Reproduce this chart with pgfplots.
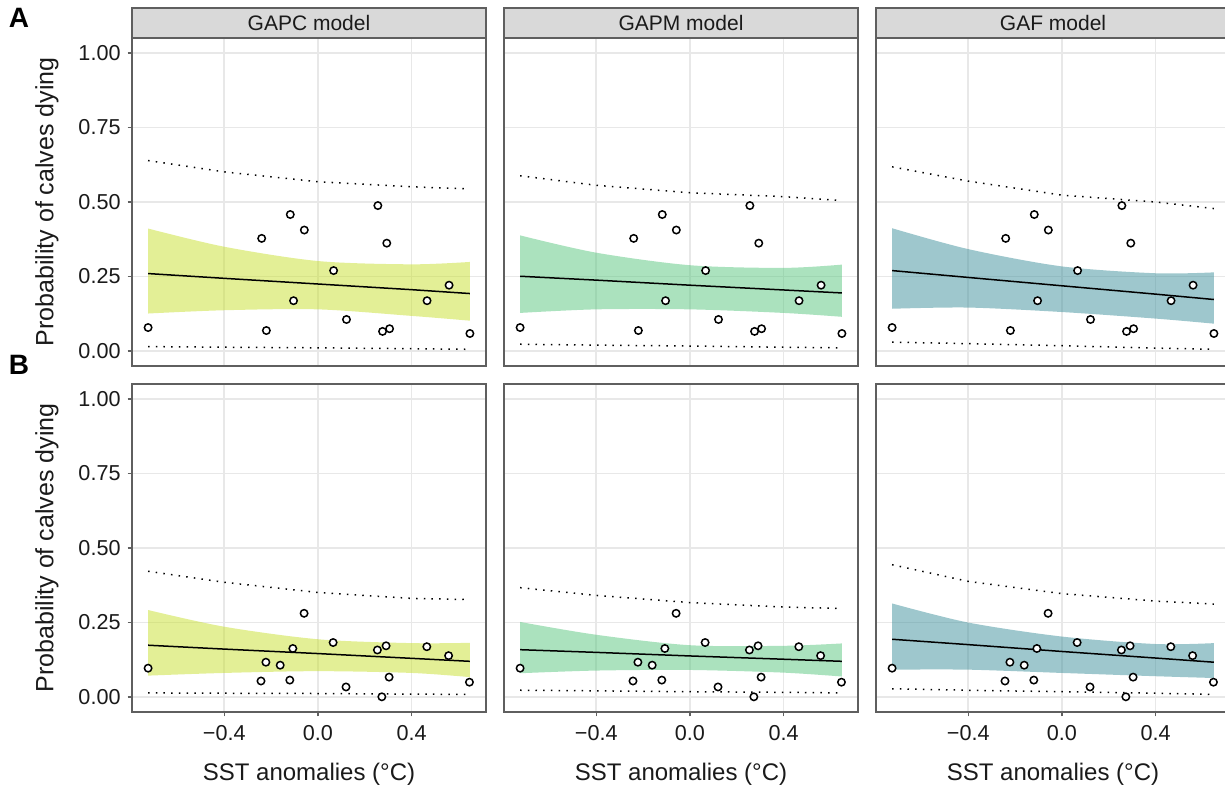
\documentclass[border=0pt]{standalone}
\usepackage{pgfplots}
\pgfplotsset{compat=1.18}
\usepgfplotslibrary{fillbetween}
\usepackage{pgfplotstable}
\usepackage{fontspec}
\setmainfont{Liberation Sans}

\definecolor{cyel}{RGB}{199,223,45}
\definecolor{cgrn}{RGB}{87,197,125}
\definecolor{cteal}{RGB}{61,143,155}
\definecolor{framec}{RGB}{95,95,95}
\definecolor{gridc}{RGB}{232,232,232}
\definecolor{stripc}{RGB}{217,217,217}
\definecolor{textc}{RGB}{26,26,26}

% observed points (same in each row)
\pgfplotstableread{
x y
-0.725 0.079
-0.240 0.378
-0.220 0.069
-0.118 0.458
-0.104 0.169
-0.058 0.406
0.067 0.270
0.122 0.106
0.256 0.488
0.276 0.066
0.294 0.362
0.306 0.075
0.466 0.169
0.560 0.221
0.649 0.059
}\ptsA
\pgfplotstableread{
x y
-0.725 0.097
-0.243 0.054
-0.222 0.117
-0.161 0.107
-0.120 0.057
-0.107 0.163
-0.059 0.281
0.065 0.183
0.120 0.034
0.254 0.158
0.273 0.001
0.291 0.172
0.304 0.067
0.465 0.169
0.558 0.139
0.647 0.050
}\ptsB

% x, band upper, band lower, fit, dotted upper, dotted lower
\pgfplotstableread{
x up lo fit dup dlo
-0.725 0.411 0.126 0.260 0.639 0.015
-0.4 0.350 0.137 0.244 0.601 0.013
0.0 0.302 0.140 0.225 0.568 0.011
0.4 0.291 0.118 0.206 0.551 0.008
0.649 0.299 0.102 0.193 0.544 0.006
}\tAa
\pgfplotstableread{
x up lo fit dup dlo
-0.725 0.388 0.128 0.251 0.588 0.023
-0.4 0.330 0.140 0.238 0.556 0.020
0.0 0.288 0.140 0.221 0.531 0.017
0.4 0.279 0.128 0.205 0.518 0.013
0.649 0.290 0.115 0.195 0.505 0.011
}\tAb
\pgfplotstableread{
x up lo fit dup dlo
-0.725 0.412 0.142 0.270 0.618 0.030
-0.4 0.342 0.146 0.247 0.570 0.025
0.0 0.284 0.131 0.219 0.523 0.018
0.4 0.261 0.109 0.191 0.500 0.010
0.649 0.264 0.092 0.173 0.478 0.006
}\tAc
\pgfplotstableread{
x up lo fit dup dlo
-0.725 0.292 0.072 0.174 0.422 0.014
-0.4 0.236 0.081 0.161 0.385 0.013
0.0 0.194 0.087 0.146 0.351 0.012
0.4 0.181 0.081 0.130 0.331 0.010
0.649 0.182 0.067 0.120 0.327 0.009
}\tBa
\pgfplotstableread{
x up lo fit dup dlo
-0.725 0.252 0.080 0.159 0.367 0.023
-0.4 0.209 0.089 0.150 0.341 0.021
0.0 0.174 0.091 0.138 0.317 0.018
0.4 0.172 0.082 0.127 0.302 0.016
0.649 0.180 0.069 0.120 0.297 0.014
}\tBb
\pgfplotstableread{
x up lo fit dup dlo
-0.725 0.314 0.092 0.194 0.444 0.028
-0.4 0.250 0.092 0.176 0.388 0.023
0.0 0.203 0.081 0.153 0.347 0.018
0.4 0.178 0.070 0.131 0.322 0.013
0.649 0.181 0.064 0.117 0.312 0.009
}\tBc

\pgfplotsset{
  panel/.style={
    scale only axis, width=177pt, height=164pt,
    anchor=south west,
    xmin=-0.7937, xmax=0.7177, ymin=-0.05, ymax=1.05,
    xtick={-0.4,0,0.4}, ytick={0,0.25,0.5,0.75,1},
    xticklabels={}, yticklabels={},
    grid=major, major grid style={draw=gridc, line width=0.8pt},
    axis line style={draw=framec, line width=0.6pt},
    tick pos=left, tick align=outside, major tick length=2.2pt,
    xtick style={draw=none}, ytick style={draw=none},
  },
  leftcol/.style={
    yticklabels={0.00,0.25,0.50,0.75,1.00},
    ytick style={draw=framec, line width=0.6pt},
    yticklabel style={font=\fontsize{10.8}{12}\selectfont, text=textc},
  },
  bottomrow/.style={
    xticklabels={−0.4,0.0,0.4},
    xtick style={draw=framec, line width=0.6pt},
    xticklabel style={font=\fontsize{10.8}{12}\selectfont, text=textc, yshift=-1pt},
  },
  dotline/.style={black, line width=0.75pt, dash pattern=on 0.75pt off 3.1pt},
}

% #1 axis options, #2 model table, #3 band colour, #4 points table
\newcommand{\panel}[4]{%
\begin{axis}[panel, #1]
\addplot[name path=up, draw=none, smooth] table[x=x, y=up]{#2};
\addplot[name path=lo, draw=none, smooth] table[x=x, y=lo]{#2};
\addplot[fill=#3, fill opacity=0.5, draw=none] fill between[of=up and lo];
\addplot[dotline] table[x=x, y=dup]{#2};
\addplot[dotline] table[x=x, y=dlo]{#2};
\addplot[black, line width=0.75pt] table[x=x, y=fit]{#2};
\addplot[only marks, mark=*, mark size=1.85pt,
  mark options={fill=white, draw=black, line width=0.75pt}] table[x=x, y=y]{#4};
\end{axis}}

\begin{document}
\begin{tikzpicture}

\panel{at={(66pt,211.5pt)}, leftcol}{\tAa}{cyel}{\ptsA}
\panel{at={(252pt,211.5pt)}}{\tAb}{cgrn}{\ptsA}
\panel{at={(438pt,211.5pt)}}{\tAc}{cteal}{\ptsA}

\panel{at={(66pt,38.5pt)}, leftcol, bottomrow}{\tBa}{cyel}{\ptsB}
\panel{at={(252pt,38.5pt)}, bottomrow}{\tBb}{cgrn}{\ptsB}
\panel{at={(438pt,38.5pt)}, bottomrow}{\tBc}{cteal}{\ptsB}

% facet strips
\foreach \x/\lab in {66/GAPC model, 252/GAPM model, 438/GAF model}{
  \draw[fill=stripc, draw=framec, line width=0.6pt] (\x pt,375.5pt) rectangle ++(177pt,15pt);
  \node[font=\fontsize{10.5}{12}\selectfont, text=textc] at (\x pt+88.5pt,383pt) {\lab};
}

% axis titles
\node[rotate=90, font=\fontsize{12.5}{14}\selectfont, text=textc] at (23.5pt,293.5pt) {Probability of calves dying};
\node[rotate=90, font=\fontsize{12.5}{14}\selectfont, text=textc] at (23.5pt,120.5pt) {Probability of calves dying};
\foreach \x in {154.5,340.5,526.5}{
  \node[font=\fontsize{12}{14}\selectfont, text=textc] at (\x pt,7.5pt) {SST anomalies (°C)};
}

% row tags
\node[font=\fontsize{14}{16}\selectfont\bfseries] at (9.5pt,385.5pt) {A};
\node[font=\fontsize{14}{16}\selectfont\bfseries] at (9.5pt,212pt) {B};

% page is the reference's frame; the right panel runs past it as in the reference
\pgfresetboundingbox
\useasboundingbox (0,0) rectangle (612.5pt,394.5pt);
\end{tikzpicture}
\end{document}
